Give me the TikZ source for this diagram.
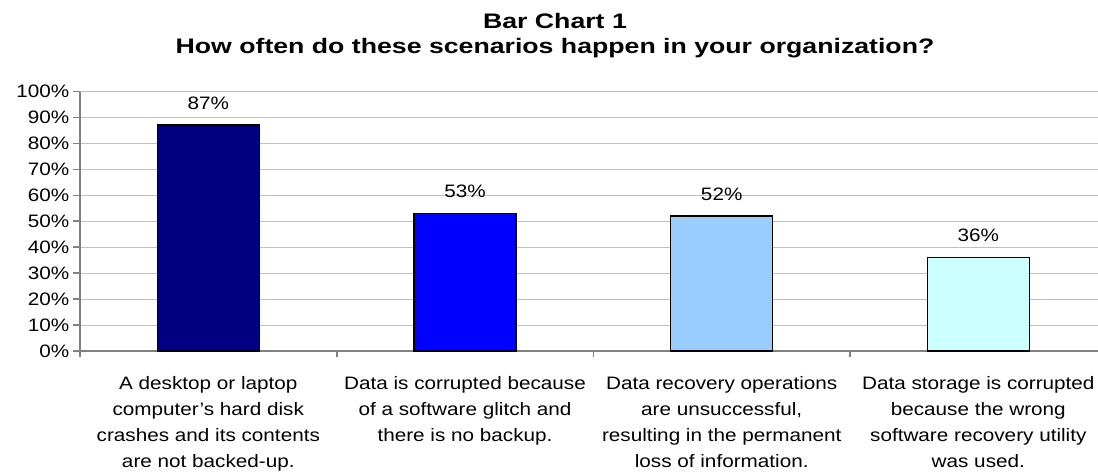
\documentclass[tikz,border=0pt]{standalone}
\usepackage{fontspec}
\setmainfont[FakeStretch=1.15]{Liberation Sans}
\newfontfamily\titlefont[FakeStretch=1.27]{Liberation Sans}
\definecolor{barnavy}{RGB}{0,0,128}
\definecolor{barblue}{RGB}{0,0,255}
\definecolor{barsky}{RGB}{153,204,255}
\definecolor{barpale}{RGB}{204,255,255}
\definecolor{gridgray}{RGB}{192,192,192}
\definecolor{axisgray}{RGB}{128,128,128}

\begin{document}
\begin{tikzpicture}[x=1pt, y=-1pt, font=\fontsize{18}{26}\selectfont,
    gridline/.style={draw=gridgray, line width=1pt},
    axisline/.style={draw=axisgray, line width=1.6pt},
    bar/.style={draw=black, line width=1.5pt},
    pct/.style={anchor=base, inner sep=0pt},
    catlabel/.style={anchor=north, align=center, inner sep=0pt}]
        \useasboundingbox (0,0) rectangle (1098,472);
        % title
        \node[pct, font=\titlefont\bfseries\fontsize{21}{25}\selectfont] (title1) at (555,28) {Bar Chart 1};
        \node[pct, font=\titlefont\bfseries\fontsize{21}{25}\selectfont] (title2) at (555,53) {How often do these scenarios happen in your organization?};
        % grid and axes
        \foreach \v in {10,20,...,100} \draw[gridline] (80,{351-2.595*\v}) -- (1098,{351-2.595*\v});
        \draw[axisline] (80,91.5) -- (80,351) -- (1098,351);
        \foreach \v in {0,10,...,100} \draw[axisline] (73,{351-2.595*\v}) -- (80,{351-2.595*\v}) node[anchor=east, inner sep=0pt, xshift=-10pt] (tick\v) {\v\%};
        \foreach \x in {80,336.7,593.3,850} \draw[axisline] (\x,351) -- (\x,357);
        % bars
        \draw[bar, fill=barnavy] (157.3,351) rectangle (259.3,125.2);
        \node[pct] (val1) at (208.3,109.2) {87\%};
        \draw[bar, fill=barblue] (414,351) rectangle (516,213.5);
        \node[pct] (val2) at (465,197.5) {53\%};
        \draw[bar, fill=barsky] (670.7,351) rectangle (772.7,216.1);
        \node[pct] (val3) at (721.7,200.1) {52\%};
        \draw[bar, fill=barpale] (927.3,351) rectangle (1029.3,257.6);
        \node[pct] (val4) at (978.3,241.6) {36\%};
        % categories
        \node[catlabel] (cat1) at (208.3,376) {A desktop or laptop\\computer’s hard disk\\crashes and its contents\\are not backed-up.};
        \node[catlabel] (cat2) at (465,376) {Data is corrupted because\\of a software glitch and\\there is no backup.};
        \node[catlabel] (cat3) at (721.7,376) {Data recovery operations\\are unsuccessful,\\resulting in the permanent\\loss of information.};
        \node[catlabel] (cat4) at (978.3,376) {Data storage is corrupted\\because the wrong\\software recovery utility\\was used.};
    \end{tikzpicture}
\end{document}
